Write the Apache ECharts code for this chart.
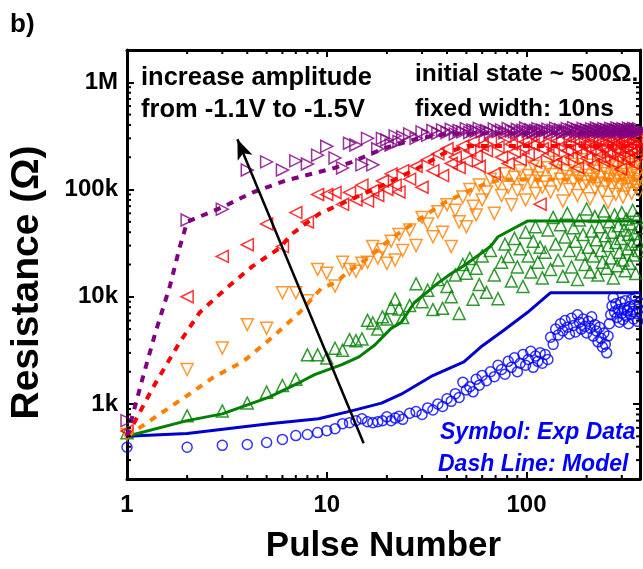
<!DOCTYPE html>
<html>
<head>
<meta charset="utf-8">
<title>Resistance vs Pulse Number</title>
<script src="https://cdn.jsdelivr.net/npm/echarts@6.0.0/dist/echarts.min.js"></script>
<style>
    html, body { margin: 0; padding: 0; background: #fff; }
    #chart { width: 643px; height: 569px; }
</style>
</head>
<body>
<div id="chart"></div>
<script>
// pulse numbers at which measured points are plotted
const pulses = [1,2,3,4,5,6,7,8,9,10,11,12,13,14,15,16,17,18,19,20,21,22,23,24,
    26,28,30,32,34,36,38,40,42,44,46,48,50,52,54,56,58,60,
    63,66,69,72,75,78,81,84,87,90,93,96,99,102,105,108,111,114,117,120,
    124,128,132,136,140,144,148,152,156,160,164,168,172,176,180,184,188,192,196,200,
    204,208,212,216,220,224,228,232,236,240,244,248,252,256,260,264,268,272,276,280,
    284,288,292,296,300,304,308,312,316,320,324,328,332,336,340,344,348,352,356,360,364,368];

// measured resistance (ohm), one value per pulse above
const blueExp = [395,395,412,420,438,468,508,520,542,565,589,656,670,698,728,684,670,684,698,760,700,740,770,720,
    820,850,800,920,880,1000,950,1120,1060,1250,1150,1600,1350,1450,1300,1700,1500,1850,
    1650,2000,1800,2300,2100,1900,2500,2200,2700,2000,2400,2900,2300,2600,3100,2200,2800,2500,3000,2400,
    2900,2600,4200,3600,5000,4400,5600,4800,6000,5200,4500,6300,5400,4700,6800,5800,5000,6200,5300,4600,
    5900,5100,6500,4300,5500,4800,3800,5200,4100,3400,4600,3600,3000,4300,5600,6800,8200,9800,7200,8600,
    6400,7600,5800,8900,7000,6100,7800,9200,6600,7400,5600,8100,6900,9500,7300,6200,8400,10000,7000,5900,7700,8800];
const greenExp = [540,776,863,1020,1290,1490,1700,2875,2875,2690,3310,3170,3980,3900,4050,6030,5700,5000,6500,6200,7900,9500,7700,6400,
    8300,13200,9000,11500,7600,14500,7800,12500,10000,16000,7000,20000,16600,22800,9500,18500,13000,24000,
    11000,27000,16000,9600,21000,31000,23800,14000,35000,19000,28000,12500,40000,24000,17000,33000,45000,21000,29000,15000,
    26000,42000,18000,55000,31000,22000,47000,15500,36000,60000,27000,19000,44000,33000,14500,52000,25000,38000,20000,66000,
    29000,17000,41000,24000,56000,34000,16000,45000,27000,21000,63000,37000,18500,30000,50000,23000,40000,15000,58000,32000,
    19500,46000,26000,35000,61000,22000,42000,17500,53000,28000,38000,20500,48000,31000,64000,24500,39000,16500,55000,33000,27000,44000];
const orangeExp = [520,2100,3330,5500,5080,10900,10900,9200,18000,16600,12600,21000,18000,17300,20500,21000,29400,23000,27500,20500,33000,22000,38000,27000,
    42000,30000,55000,47800,36300,62000,40000,72000,29400,64000,50000,85000,45000,100000,70000,58000,110000,80000,
    95000,125000,60000,115000,88000,140000,105000,72000,130000,98000,150000,112000,80000,135000,120000,165000,92000,128000,145000,105000,
    118000,160000,95000,138000,180000,110000,125000,78000,150000,132000,100000,172000,120000,142000,88000,128000,190000,108000,155000,118000,
    135000,82000,168000,125000,102000,148000,115000,185000,130000,95000,158000,112000,140000,76000,125000,175000,105000,145000,120000,90000,
    162000,132000,110000,195000,138000,85000,122000,152000,100000,170000,128000,114000,182000,92000,142000,118000,160000,106000,135000,188000,124000,98000];
const redExp = [560,10000,23800,30600,47800,29400,61000,49800,90000,90000,94000,72800,94000,80000,110000,78000,98000,88000,120000,100000,140000,110000,95000,150000,
    125000,165000,105000,190000,150000,215000,135000,240000,175000,200000,160000,255000,185000,230000,280000,205000,165000,260000,
    230000,290000,140000,250000,200000,310000,175000,265000,225000,300000,190000,245000,280000,215000,320000,260000,180000,295000,73000,240000,
    270000,210000,305000,235000,175000,285000,250000,190000,315000,230000,265000,200000,295000,245000,160000,280000,220000,310000,255000,195000,
    275000,235000,300000,170000,260000,225000,290000,205000,320000,248000,185000,272000,230000,305000,215000,262000,180000,290000,240000,312000,
    200000,268000,228000,155000,282000,250000,205000,298000,236000,275000,190000,318000,245000,220000,285000,258000,172000,300000,232000,270000,212000,295000];
const purpleExp = [700,52000,65600,152000,181000,152000,185000,173000,209000,253000,197000,159000,270000,260000,170000,300000,170000,240000,300000,290000,260000,316000,280000,310000,
    330000,300000,345000,320000,355000,335000,360000,340000,365000,330000,355000,345000,370000,340000,360000,350000,372000,345000,
    355000,340000,368000,348000,360000,338000,372000,352000,345000,365000,342000,358000,375000,348000,362000,340000,356000,370000,346000,360000,
    352000,366000,343000,358000,374000,348000,362000,340000,355000,370000,345000,360000,378000,350000,364000,342000,356000,372000,348000,362000,
    338000,354000,368000,346000,360000,375000,350000,364000,344000,358000,370000,348000,362000,340000,356000,372000,350000,364000,345000,360000,
    376000,352000,366000,342000,358000,370000,348000,362000,340000,356000,374000,350000,364000,346000,360000,372000,352000,366000,344000,358000,370000,350000];

// model curves [pulse, ohm]
const blueModel = [[1,500],[2,531],[4.24,628],[5.15,656],[9.1,728],[13.3,863],[18.8,1020],[23.6,1236],[33.3,1808],[48.6,2477],[59,3400],[77,4877],[101,7130],[131.6,10890],[370,10890]];
const greenModel = [[1,500],[2,700],[3,810],[5.15,1160],[7.5,1630],[8.7,1880],[11.9,2330],[14.5,2750],[17.4,3550],[21,5080],[23.6,5770],[27.4,8800],[36,13400],[42,16500],[48.6,19500],[66,29400],[72,36300],[101,50800],[370,50800]];
const orangeModel = [[1,500],[2,1200],[2.7,1770],[3.8,2480],[5.15,3950],[7.3,7130],[9.4,12000],[11,13500],[13.3,18000],[16.6,24000],[19.4,31000],[22,37000],[28.7,52000],[38.6,75000],[50,95000],[61,111000],[74,124000],[370,124000]];
const redModel = [[1,500],[1.35,1430],[1.84,3790],[2.31,7130],[3.11,11800],[4.24,19200],[5.77,28200],[6.7,38600],[9.1,59000],[12.9,79300],[19.4,111000],[28.7,159000],[38.6,218000],[50.7,255000],[370,255000]];
const purpleModel = [[1,500],[1.2,1770],[1.39,4680],[1.64,12600],[1.84,29400],[2,50000],[3,68400],[4.24,93800],[6.2,121000],[10.96,159000],[13.3,180000],[19.4,243000],[28.7,300000],[41.9,333000],[370,340000]];

// arrow "increase amplitude" [pulse, ohm]
const arrowFrom = [15.3, 430];
const arrowTo = [3.57, 294000];

// axes
const xMin = 1, xMax = 370;
const yMin = 200, yMax = 2000000;
const xTickLabels = { 1: '1', 10: '10', 100: '100' };
const yTickLabels = { 1000: '1k', 10000: '10k', 100000: '100k', 1000000: '1M' };
const xMinorTicks = [2,3,4,5,6,7,8,9,20,30,40,50,60,70,80,90,200,300];
const yMinorTicks = [300,400,500,600,700,800,900,2000,3000,4000,5000,6000,7000,8000,9000,
    20000,30000,40000,50000,60000,70000,80000,90000,200000,300000,400000,500000,600000,700000,800000,900000];

const FONT = '"Liberation Sans", Arial, sans-serif';

const chart = echarts.init(document.getElementById('chart'), null, { renderer: 'canvas' });

function pairs(ys) {
    return pulses.map((p, i) => [p, ys[i]]);
}

function expSeries(name, ys, color, rotate, size) {
    return {
        name: name,
        type: 'scatter',
        data: pairs(ys),
        symbol: rotate === null ? 'circle' : 'triangle',
        symbolRotate: rotate || 0,
        symbolSize: size,
        itemStyle: { color: 'rgba(0,0,0,0)', borderColor: color, borderWidth: 1.5 },
        z: 2
    };
}

function modelSeries(name, pts, color, dashed) {
    return {
        name: name,
        type: 'line',
        data: pts,
        showSymbol: false,
        symbol: 'none',
        lineStyle: { color: color, width: dashed ? 4 : 3, type: dashed ? [7, 7] : 'solid' },
        z: 3
    };
}

function tickLine(x1, y1, x2, y2) {
    return { type: 'line', shape: { x1: x1, y1: y1, x2: x2, y2: y2 }, style: { stroke: '#000', lineWidth: 2 } };
}

const axisLine = { show: true, lineStyle: { color: '#000', width: 3 } };
const axisTick = { show: true, inside: true, length: 7, lineStyle: { color: '#000', width: 2 } };

const option = {
    animation: false,
    backgroundColor: '#fff',
    grid: { left: 124, right: 3, top: 50, bottom: 84, containLabel: false },
    xAxis: [{
        type: 'log', logBase: 10, min: xMin, max: xMax,
        axisLine: axisLine, axisTick: axisTick, splitLine: { show: false },
        axisLabel: {
            margin: 14, color: '#000', fontSize: 24, fontWeight: 'bold', fontFamily: FONT,
            formatter: v => xTickLabels[Math.round(v)] || ''
        },
        name: 'Pulse Number', nameLocation: 'middle', nameGap: 50,
        nameTextStyle: { color: '#000', fontSize: 35, fontWeight: 'bold', fontFamily: FONT }
    }, {
        type: 'log', logBase: 10, min: xMin, max: xMax, position: 'top',
        axisLine: axisLine, axisTick: axisTick, axisLabel: { show: false }, splitLine: { show: false }
    }],
    yAxis: [{
        type: 'log', logBase: 10, min: yMin, max: yMax,
        axisLine: axisLine, axisTick: axisTick, splitLine: { show: false },
        axisLabel: {
            margin: 9, color: '#000', fontSize: 24, fontWeight: 'bold', fontFamily: FONT,
            formatter: v => yTickLabels[Math.round(v)] || ''
        },
        name: 'Resistance (Ω)', nameLocation: 'middle', nameGap: 80,
        nameTextStyle: { color: '#000', fontSize: 39, fontWeight: 'bold', fontFamily: FONT, padding: [0, 36, 0, 0] }
    }, {
        type: 'log', logBase: 10, min: yMin, max: yMax, position: 'right',
        axisLine: axisLine, axisTick: axisTick, axisLabel: { show: false }, splitLine: { show: false }
    }],
    graphic: [
        { type: 'text', left: 10, top: 12, z: 100, style: { text: 'b)', fill: '#000', font: 'bold 26px ' + FONT } },
        { type: 'text', left: 141, top: 65, z: 100, style: { text: 'increase amplitude', fill: '#000', font: 'bold 25.5px ' + FONT } },
        { type: 'text', left: 141, top: 97, z: 100, style: { text: 'from -1.1V to -1.5V', fill: '#000', font: 'bold 25.5px ' + FONT } },
        { type: 'text', left: 415, top: 62, z: 100, style: { text: 'initial state ~ 500Ω.', fill: '#000', font: 'bold 24.5px ' + FONT } },
        { type: 'text', left: 415, top: 97, z: 100, style: { text: 'fixed width: 10ns', fill: '#000', font: 'bold 24.5px ' + FONT } },
        { type: 'text', left: 440, top: 421, z: 100, style: { text: 'Symbol: Exp Data', fill: '#0000ff', font: 'italic bold 23px ' + FONT } },
        { type: 'text', left: 438, top: 453, z: 100, style: { text: 'Dash Line: Model', fill: '#0000ff', font: 'italic bold 23px ' + FONT } }
    ],
    series: [
        expSeries('-1.1V exp', blueExp, '#0000ff', null, 10),
        expSeries('-1.2V exp', greenExp, '#008000', 0, 12),
        expSeries('-1.3V exp', orangeExp, '#ff8000', 180, 12),
        expSeries('-1.4V exp', redExp, '#ff0000', 90, 12),
        expSeries('-1.5V exp', purpleExp, '#800080', -90, 12),
        modelSeries('-1.1V model', blueModel, '#0000cc', false),
        modelSeries('-1.2V model', greenModel, '#008000', false),
        modelSeries('-1.3V model', orangeModel, '#ff8000', true),
        modelSeries('-1.4V model', redModel, '#ff0000', true),
        modelSeries('-1.5V model', purpleModel, '#800080', true),
        {
            name: 'arrow', type: 'line', data: [], z: 4,
            markLine: {
                silent: true, symbol: ['none', 'arrow'], symbolSize: [12, 20],
                label: { show: false },
                lineStyle: { color: '#000', width: 2.5, type: 'solid' },
                data: [[{ coord: arrowFrom }, { coord: arrowTo }]]
            }
        },
        {
            name: 'x minor ticks', type: 'custom', z: 5, silent: true,
            data: xMinorTicks.map(v => [v, yMin]),
            renderItem: (params, api) => {
                const b = api.coord([api.value(0), yMin]);
                const t = api.coord([api.value(0), yMax]);
                return { type: 'group', children: [tickLine(b[0], b[1], b[0], b[1] - 4), tickLine(t[0], t[1], t[0], t[1] + 4)] };
            }
        },
        {
            name: 'y minor ticks', type: 'custom', z: 5, silent: true,
            data: yMinorTicks.map(v => [xMin, v]),
            renderItem: (params, api) => {
                const l = api.coord([xMin, api.value(1)]);
                const r = api.coord([xMax, api.value(1)]);
                return { type: 'group', children: [tickLine(l[0], l[1], l[0] + 4, l[1]), tickLine(r[0], r[1], r[0] - 4, r[1])] };
            }
        }
    ]
};

chart.setOption(option);
</script>
</body>
</html>
